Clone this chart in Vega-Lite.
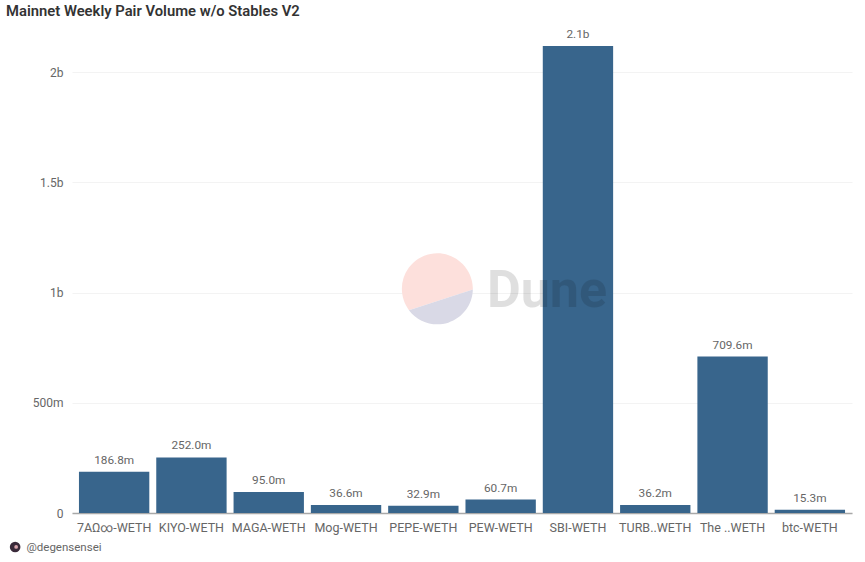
{"$schema":"https://vega.github.io/schema/vega-lite/v6.json","width":780,"height":485,"autosize":{"type":"none"},"padding":{"left":72,"top":28,"right":13,"bottom":49},"background":"#ffffff","title":{"text":"Mainnet Weekly Pair Volume w/o Stables V2","anchor":"start","frame":"group","dx":-66,"offset":9,"font":"Roboto","fontSize":14.8,"fontWeight":600,"color":"#333333"},"config":{"view":{"stroke":null},"font":"Roboto"},"data":{"values":[{"pair":"7AΩ∞-WETH","volume":186800000,"label":"186.8m"},{"pair":"KIYO-WETH","volume":252000000,"label":"252.0m"},{"pair":"MAGA-WETH","volume":95000000,"label":"95.0m"},{"pair":"Mog-WETH","volume":36600000,"label":"36.6m"},{"pair":"PEPE-WETH","volume":32900000,"label":"32.9m"},{"pair":"PEW-WETH","volume":60700000,"label":"60.7m"},{"pair":"SBI-WETH","volume":2118000000,"label":"2.1b"},{"pair":"TURB..WETH","volume":36200000,"label":"36.2m"},{"pair":"The ..WETH","volume":709600000,"label":"709.6m"},{"pair":"btc-WETH","volume":15300000,"label":"15.3m"}]},"layer":[{"data":{"values":[{"part":"logo"}]},"mark":{"type":"point","filled":true,"opacity":1,"size":5041,"fill":"#fde0dc","shape":"M1 0 A1 1 0 1 0 -0.8 0.58 Z","xOffset":14,"yOffset":-3},"encoding":{"x":{"datum":"PEPE-WETH","type":"nominal","scale":{"domain":["7AΩ∞-WETH","KIYO-WETH","MAGA-WETH","Mog-WETH","PEPE-WETH","PEW-WETH","SBI-WETH","TURB..WETH","The ..WETH","btc-WETH"]}},"y":{"datum":1000000000,"type":"quantitative","scale":{"domain":[0,2200000000]}}}},{"data":{"values":[{"part":"logo"}]},"mark":{"type":"point","filled":true,"opacity":1,"size":5041,"fill":"#d9d9e6","shape":"M1 0 A1 1 0 0 1 -0.8 0.58 Z","xOffset":14,"yOffset":-3},"encoding":{"x":{"datum":"PEPE-WETH","type":"nominal","scale":{"domain":["7AΩ∞-WETH","KIYO-WETH","MAGA-WETH","Mog-WETH","PEPE-WETH","PEW-WETH","SBI-WETH","TURB..WETH","The ..WETH","btc-WETH"]}},"y":{"datum":1000000000,"type":"quantitative","scale":{"domain":[0,2200000000]}}}},{"mark":{"type":"bar","color":"#38658c"},"encoding":{"x":{"field":"pair","type":"nominal","scale":{"domain":["7AΩ∞-WETH","KIYO-WETH","MAGA-WETH","Mog-WETH","PEPE-WETH","PEW-WETH","SBI-WETH","TURB..WETH","The ..WETH","btc-WETH"],"paddingInner":0.09,"paddingOuter":0.09},"axis":{"title":"@degensensei","titleFont":"Roboto","titleFontSize":11.5,"titleFontWeight":400,"titleColor":"#666666","titleAnchor":"start","titleAlign":"left","titleBaseline":"middle","titleX":-46,"titleY":34,"labelAngle":0,"labelAlign":"center","labelBaseline":"top","labelFont":"Roboto","labelFontSize":12.5,"labelColor":"#666666","labelPadding":8,"labelOverlap":false,"ticks":false,"domainColor":"#a8a8a8","domainWidth":1.5,"grid":false}},"y":{"field":"volume","type":"quantitative","scale":{"domain":[0,2200000000],"nice":false},"axis":{"title":null,"values":[0,500000000,1000000000,1500000000,2000000000],"labelExpr":"datum.value==0?'0':datum.value>=1e9?(datum.value/1e9)+'b':(datum.value/1e6)+'m'","labelFont":"Roboto","labelFontSize":12,"labelColor":"#666666","labelPadding":9,"ticks":false,"domain":false,"grid":true,"gridColor":"#f3f3f3","gridWidth":1}}}},{"mark":{"type":"text","dy":-6,"baseline":"bottom","font":"Roboto","fontSize":11.8,"color":"#666666"},"encoding":{"x":{"field":"pair","type":"nominal","scale":{"domain":["7AΩ∞-WETH","KIYO-WETH","MAGA-WETH","Mog-WETH","PEPE-WETH","PEW-WETH","SBI-WETH","TURB..WETH","The ..WETH","btc-WETH"]}},"y":{"field":"volume","type":"quantitative","scale":{"domain":[0,2200000000]}},"text":{"field":"label"}}},{"data":{"values":[{"part":"wordmark"}]},"mark":{"type":"text","text":"Dune","font":"Roboto","fontSize":52,"fontWeight":700,"color":"#000000","opacity":0.12,"align":"center","baseline":"middle","xOffset":-31,"yOffset":-2},"encoding":{"x":{"datum":"SBI-WETH","type":"nominal","scale":{"domain":["7AΩ∞-WETH","KIYO-WETH","MAGA-WETH","Mog-WETH","PEPE-WETH","PEW-WETH","SBI-WETH","TURB..WETH","The ..WETH","btc-WETH"]}},"y":{"datum":1000000000,"type":"quantitative","scale":{"domain":[0,2200000000]}}}},{"data":{"values":[{"part":"avatar"}]},"mark":{"type":"point","filled":true,"opacity":1,"size":113,"fill":"#3a2a3a","shape":"circle","xOffset":-99,"clip":false},"encoding":{"x":{"datum":"7AΩ∞-WETH","type":"nominal","scale":{"domain":["7AΩ∞-WETH","KIYO-WETH","MAGA-WETH","Mog-WETH","PEPE-WETH","PEW-WETH","SBI-WETH","TURB..WETH","The ..WETH","btc-WETH"]}},"y":{"datum":-154000000,"type":"quantitative","scale":{"domain":[0,2200000000]}}}},{"data":{"values":[{"part":"avatar"}]},"mark":{"type":"point","filled":true,"opacity":1,"size":14,"fill":"#d9a5ad","shape":"circle","xOffset":-98,"clip":false},"encoding":{"x":{"datum":"7AΩ∞-WETH","type":"nominal","scale":{"domain":["7AΩ∞-WETH","KIYO-WETH","MAGA-WETH","Mog-WETH","PEPE-WETH","PEW-WETH","SBI-WETH","TURB..WETH","The ..WETH","btc-WETH"]}},"y":{"datum":-154000000,"type":"quantitative","scale":{"domain":[0,2200000000]}}}}]}
